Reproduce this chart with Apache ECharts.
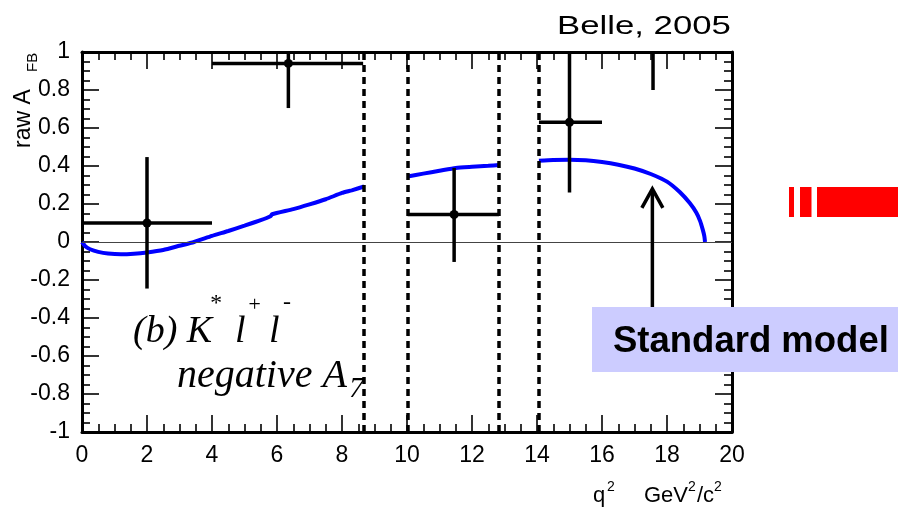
<!DOCTYPE html>
<html><head><meta charset="utf-8">
<script src="https://cdn.jsdelivr.net/npm/echarts@6/dist/echarts.min.js"></script>
<style>html,body{margin:0;padding:0;background:#fff}#c{width:898px;height:513px}</style>
</head><body><div id="c"></div>
<script>
// ---- tick labels ----
const xTickLabels = [0, 2, 4, 6, 8, 10, 12, 14, 16, 18, 20];
const yTickLabels = [-1, -0.8, -0.6, -0.4, -0.2, 0, 0.2, 0.4, 0.6, 0.8, 1];

// ---- Standard model curve (q2, A_FB), three pieces separated by the vetoed regions ----
const smLow = [[0,0],[0.1,-0.022],[0.25,-0.038],[0.5,-0.052],[0.8,-0.061],[1.2,-0.065],[1.6,-0.062],[2,-0.055],[2.5,-0.042],[3,-0.02],[3.45,0],[4,0.032],[4.5,0.058],[5,0.086],[5.5,0.115],[5.8,0.136],[5.85,0.146],[6.5,0.173],[7,0.198],[7.5,0.225],[8,0.258],[8.3,0.272],[8.68,0.292]];
const smMid = [[10.02,0.345],[10.5,0.36],[11,0.375],[11.5,0.39],[12,0.396],[12.5,0.401],[12.83,0.405]];
const smHigh = [[14.06,0.428],[14.5,0.432],[15,0.433],[15.5,0.43],[16,0.421],[16.5,0.407],[17,0.387],[17.5,0.358],[18,0.318],[18.4,0.262],[18.7,0.205],[18.9,0.155],[19.02,0.11],[19.1,0.065],[19.15,0.03],[19.17,0]];

// ---- Belle measurement: [q2, AFB, q2Low, q2High, errLow, errHigh] ----
const belleX    = [2.0, 6.35, 11.45, 15.0];
const belleY    = [0.10, 0.94, 0.145, 0.63];
const belleXLo  = [0.0, 4.0, 10.02, 14.06];
const belleXHi  = [4.0, 8.65, 12.83, 16.0];
const belleYLo  = [-0.245, 0.705, -0.105, 0.26];
const belleYHi  = [0.447, 1.0, 0.39, 1.0];
// bin whose central value is off scale: only the lower part of the bar is visible
const offScaleX  = [17.57];
const offScaleLo = [0.80];
const offScaleHi = [1.0];

// ---- vetoed-region boundaries ----
const vetoEdges = [8.68, 10.02, 12.83, 14.06];

const belleData = belleX.map((x, i) => [x, belleY[i], belleXLo[i], belleXHi[i], belleYLo[i], belleYHi[i]]);
const offData = offScaleX.map((x, i) => [x, offScaleLo[i], offScaleHi[i]]);

const chart = echarts.init(document.getElementById('c'), null, {renderer: 'canvas'});
const SANS = '"Liberation Sans", Arial, sans-serif';
const SERIF = '"Liberation Serif", "Times New Roman", serif';

function axisCommon(showLabel) {
  return {
    axisLine: {show: true, onZero: false, lineStyle: {color: '#000', width: 3}},
    axisTick: {show: true, inside: true, length: 17, lineStyle: {color: '#000', width: 1.6}},
    minorTick: {show: true, splitNumber: 4, length: 8, lineStyle: {color: '#000', width: 1.6}},
    splitLine: {show: false},
    axisLabel: {show: showLabel, color: '#000', fontSize: 23, fontFamily: SANS, margin: 12}
  };
}
const xMin = xTickLabels[0], xMax = xTickLabels[xTickLabels.length - 1], xInt = xTickLabels[1] - xTickLabels[0];
const yMin = yTickLabels[0], yMax = yTickLabels[yTickLabels.length - 1], yInt = +(yTickLabels[1] - yTickLabels[0]).toFixed(3);

const txt = (x, y, text, font, extra) => Object.assign({type: 'text', x, y, z: 100, style: {text, font, fill: '#000', verticalAlign: 'middle', align: 'left'}}, extra || {});

const option = {
  animation: false,
  backgroundColor: '#fff',
  grid: {left: 82, right: 166, top: 52, bottom: 81},
  xAxis: [
    Object.assign({type: 'value', min: xMin, max: xMax, interval: xInt, position: 'bottom'}, axisCommon(true)),
    Object.assign({type: 'value', min: xMin, max: xMax, interval: xInt, position: 'top'}, axisCommon(false))
  ],
  yAxis: [
    Object.assign({type: 'value', min: yMin, max: yMax, interval: yInt, position: 'left'}, axisCommon(true)),
    Object.assign({type: 'value', min: yMin, max: yMax, interval: yInt, position: 'right'}, axisCommon(false))
  ],
  series: [
    {type: 'line', data: smLow, showSymbol: false, smooth: 0.2, lineStyle: {color: '#0000ff', width: 4}, z: 3,
     markLine: {silent: true, symbol: 'none', label: {show: false},
       lineStyle: {color: '#444', width: 1, type: 'solid'}, data: [{yAxis: 0}]}},
    {type: 'line', data: smMid, showSymbol: false, smooth: 0.2, lineStyle: {color: '#0000ff', width: 4}, z: 3},
    {type: 'line', data: smHigh, showSymbol: false, smooth: 0.2, lineStyle: {color: '#0000ff', width: 4}, z: 3,
     markLine: {silent: true, symbol: 'none', label: {show: false},
       lineStyle: {color: '#000', width: 3.5, type: [7, 5]},
       data: vetoEdges.map(v => ({xAxis: v}))}},
    {type: 'custom', data: belleData, encode: {x: 0, y: 1}, z: 5, clip: true,
     renderItem: function (params, api) {
       const x = api.value(0), y = api.value(1);
       const c = api.coord([x, y]);
       const hl = api.coord([api.value(2), y]), hh = api.coord([api.value(3), y]);
       const vl = api.coord([x, api.value(4)]), vh = api.coord([x, api.value(5)]);
       const st = {stroke: '#000', lineWidth: 3.5};
       return {type: 'group', children: [
         {type: 'line', shape: {x1: hl[0], y1: hl[1], x2: hh[0], y2: hh[1]}, style: st},
         {type: 'line', shape: {x1: vl[0], y1: vl[1], x2: vh[0], y2: vh[1]}, style: st},
         {type: 'circle', shape: {cx: c[0], cy: c[1], r: 4.5}, style: {fill: '#000'}}
       ]};
     }},
    {type: 'custom', data: offData, encode: {x: 0, y: [1, 2]}, z: 5,
     renderItem: function (params, api) {
       const a = api.coord([api.value(0), api.value(1)]), b = api.coord([api.value(0), api.value(2)]);
       return {type: 'line', shape: {x1: a[0], y1: a[1], x2: b[0], y2: b[1]}, style: {stroke: '#000', lineWidth: 3.5}};
     }}
  ]
};
chart.setOption(option);

// ---- annotations ----
const tip = chart.convertToPixel({gridIndex: 0}, [17.55, 0.28]);
const boxTop = 307;
const graphics = [
  // Belle, 2005 (stretched horizontally as in the original)
  txt(557, 27.5, 'Belle, 2005', '25px ' + SANS, {scaleX: 1.39}),
  // y axis name
  txt(24, 148, 'raw A', '23px ' + SANS, {rotation: Math.PI / 2}),
  txt(33, 72, 'FB', '15px ' + SANS, {rotation: Math.PI / 2}),
  // x axis name
  txt(593, 496, 'q', '22px ' + SANS),
  txt(607, 487, '2', '14px ' + SANS),
  txt(644, 496, 'GeV', '22px ' + SANS),
  txt(688, 487, '2', '14px ' + SANS),
  txt(697, 496, '/c', '22px ' + SANS),
  txt(714, 487, '2', '14px ' + SANS),
  // process label
  txt(133, 332, '(b) K', 'italic 38px ' + SERIF),
  txt(209, 304, '*', 'italic 24px ' + SERIF),
  txt(235, 332, 'l', 'italic 38px ' + SERIF),
  txt(247, 305, '+', 'italic 22px ' + SERIF),
  txt(269, 332, 'l', 'italic 38px ' + SERIF),
  txt(283, 303, '-', 'italic 24px ' + SERIF),
  txt(177, 376.5, 'negative A', 'italic 40px ' + SERIF),
  txt(349, 389, '7', 'italic 30px ' + SERIF),
  // Standard model box + arrow
  {type: 'rect', z: 100, shape: {x: 592, y: boxTop, width: 306, height: 65}, style: {fill: '#ccccff'}},
  txt(613, 342, 'Standard model', 'bold 36.5px ' + SANS),
  {type: 'line', z: 100, shape: {x1: tip[0], y1: boxTop, x2: tip[0], y2: tip[1] + 1}, style: {stroke: '#000', lineWidth: 3.5}},
  {type: 'polyline', z: 100, shape: {points: [[tip[0] - 10.5, tip[1] + 19], [tip[0], tip[1]], [tip[0] + 10.5, tip[1] + 19]]}, style: {stroke: '#000', lineWidth: 3.5, fill: null}},
  // red marks at right
  {type: 'rect', z: 100, shape: {x: 789, y: 187, width: 5, height: 30}, style: {fill: '#ff0000'}},
  {type: 'rect', z: 100, shape: {x: 800, y: 187, width: 11.5, height: 30}, style: {fill: '#ff0000'}},
  {type: 'rect', z: 100, shape: {x: 817, y: 187, width: 81, height: 30}, style: {fill: '#ff0000'}}
];
chart.setOption({graphic: graphics});
</script>
</body></html>
